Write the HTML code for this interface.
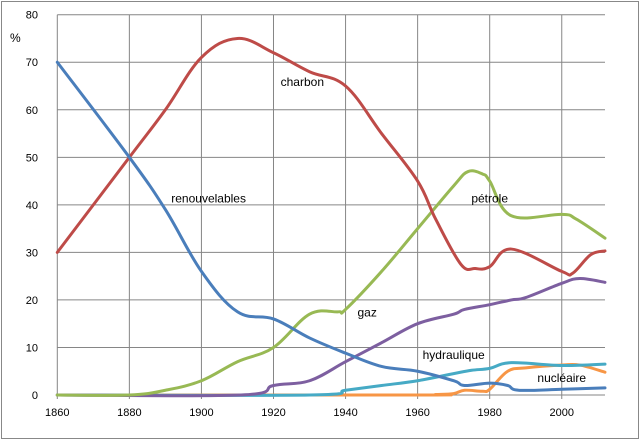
<!DOCTYPE html>
<html><head><meta charset="utf-8"><style>
body{margin:0;background:#fff;}
svg{display:block;font-family:"Liberation Sans",sans-serif;}
</style></head><body>
<svg id="chart" width="641" height="441" viewBox="0 0 641 441">
<rect x="1.5" y="1.5" width="637" height="437" fill="#fff" stroke="#888" stroke-width="1"/>
<g id="grid"></g><g id="axes"></g><g id="series"></g><g id="labels"></g>
<text x="10" y="42" font-size="12" fill="#000">%</text>
</svg>
<script>
const yearTicks=[1860,1880,1900,1920,1940,1960,1980,2000];
const valueTicks=[0,10,20,30,40,50,60,70,80];
const renouvelables=[[1860,70],[1880,50],[1890,39],[1900,26],[1910,17.5],[1920,16],[1930,12],[1940,8.8],[1950,6],[1960,5],[1970,3],[1973,2],[1980,2.5],[1985,2],[1988,1],[2000,1.2],[2012,1.5]];
const charbon=[[1860,30],[1880,50],[1890,60],[1900,71],[1910,75],[1920,72],[1930,68],[1940,65],[1950,55],[1960,45],[1965,37],[1972,27.5],[1976,26.6],[1980,27],[1986,30.7],[2000,26],[2003,25.6],[2008,29.5],[2012,30.3]];
const petrole=[[1860,0],[1880,0],[1890,1],[1900,3],[1910,7],[1920,10],[1930,17],[1938,17.5],[1940,18],[1950,26],[1960,35],[1970,44],[1974,47],[1978,46.5],[1980,45],[1986,37.7],[2000,38],[2004,37],[2012,33]];
const gaz=[[1860,0],[1911,0],[1920,2],[1930,3],[1940,7],[1950,11],[1960,15],[1970,17],[1973,18],[1980,19],[1986,20],[1990,20.5],[2000,23.5],[2005,24.5],[2012,23.7]];
const hydraulique=[[1860,0],[1930,0],[1940,1],[1950,2],[1960,3],[1970,4.5],[1975,5.2],[1980,5.6],[1986,6.8],[2000,6.2],[2012,6.5]];
const nucleaire=[[1860,0],[1960,0],[1965,0.1],[1970,0.3],[1973,1],[1978,0.8],[1980,1.2],[1985,5],[1990,5.7],[2000,6.3],[2005,6.3],[2012,4.8]];
const seriesNames=["renouvelables","charbon","petrole","gaz","hydraulique","nucleaire"];
const seriesData=[renouvelables,charbon,petrole,gaz,hydraulique,nucleaire];
const seriesColors=["#4a7ebb","#be4b48","#98b954","#7d5fa0","#46aac5","#f79646"];
const labelTexts=["renouvelables","charbon","pétrole","gaz","hydraulique","nucléaire"];
const labelPos=[[1902,40.5],[1928,65],[1980,40.5],[1946,16.5],[1970,7.6],[2000,2.7]];

const X0=57.3,X1=605,Y0=395,Y1=14.7,YEAR0=1860,YEAR1=2012,V1=80;
const xs=y=>X0+(y-YEAR0)*(X1-X0)/(YEAR1-YEAR0);
const ys=v=>Y0-v*(Y0-Y1)/V1;
const NS="http://www.w3.org/2000/svg";
function mk(tag,attrs,parent){const e=document.createElementNS(NS,tag);for(const k in attrs)e.setAttribute(k,attrs[k]);parent.appendChild(e);return e;}
const grid=document.getElementById('grid'),axes=document.getElementById('axes'),ser=document.getElementById('series'),lab=document.getElementById('labels');
valueTicks.forEach(v=>{
  const l=mk('line',{x1:X0,x2:X1,y1:ys(v),y2:ys(v),stroke:'#868686','stroke-width':1},grid);
  
  
  const t=mk('text',{x:38,y:ys(v)+4,'text-anchor':'end','font-size':11,fill:'#000'},axes);
  t.textContent=v;
  
  
});
yearTicks.forEach(y=>{
  const l=mk('line',{x1:xs(y),x2:xs(y),y1:Y1,y2:Y0+4,stroke:'#868686','stroke-width':1},grid);
  
  
  const t=mk('text',{x:xs(y),y:416,'text-anchor':'middle','font-size':11,fill:'#000'},axes);
  t.textContent=y;
  
  
});
const xl=mk('line',{x1:X0,x2:X1,y1:Y0,y2:Y0,stroke:'#868686','stroke-width':1},axes);


function pathFor(pts){
  const p=pts.map(d=>[xs(d[0]),ys(d[1])]);
  let s='M'+p[0][0]+','+p[0][1];
  for(let i=0;i<p.length-1;i++){
    const a=p[Math.max(0,i-1)],b=p[i],c=p[i+1],d=p[Math.min(p.length-1,i+2)];
    const t=0.18;
    s+=' C'+(b[0]+(c[0]-a[0])*t)+','+(b[1]+(c[1]-a[1])*t)+' '+(c[0]-(d[0]-b[0])*t)+','+(c[1]-(d[1]-b[1])*t)+' '+c[0]+','+c[1];
  }
  return s;
}
const order=[5,4,3,2,1,0];
order.forEach(i=>{
  const pa=mk('path',{d:pathFor(seriesData[i]),fill:'none',stroke:seriesColors[i],'stroke-width':3,'stroke-linejoin':'round','stroke-linecap':'round'},ser);
  
  
});
labelTexts.forEach((txt,i)=>{
  const t=mk('text',{x:xs(labelPos[i][0]),y:ys(labelPos[i][1]),'text-anchor':'middle','font-size':12,fill:'#000'},lab);
  t.textContent=txt;
  
  
});
</script>
</body></html>
